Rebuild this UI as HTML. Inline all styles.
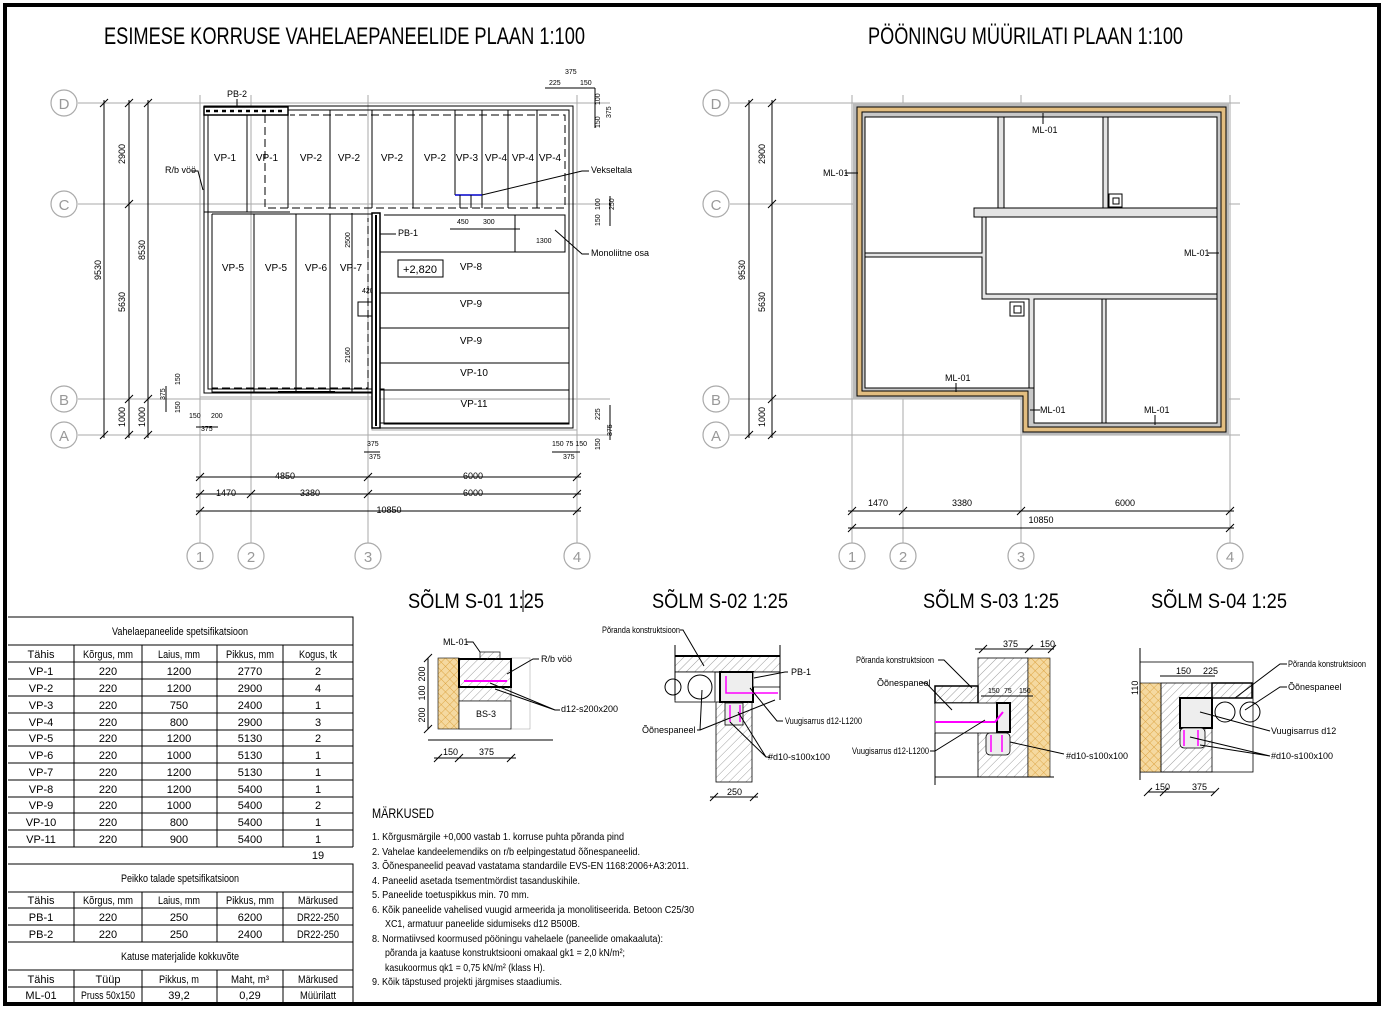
<!DOCTYPE html>
<html><head><meta charset="utf-8"><style>
html,body{margin:0;padding:0;background:#fff;}
svg{display:block;}
text{font-family:"Liberation Sans",sans-serif;fill:#000;}
.g{stroke:#aaa;stroke-width:1;fill:none;}
.k{stroke:#000;stroke-width:1;fill:none;}
.k2{stroke:#000;stroke-width:2;fill:none;}
.d{stroke:#000;stroke-width:1;fill:none;stroke-dasharray:8 4;}
.s{font-size:9px;}
.xs{font-size:7px;}
.t{font-size:10px;}
.circ{fill:#fff;stroke:#aaa;stroke-width:1.2;}
.cl{font-size:15px;fill:#999;}
</style></head><body>
<svg width="1385" height="1012" viewBox="0 0 1385 1012" xmlns="http://www.w3.org/2000/svg">
<defs>
<pattern id="hat" width="6" height="6" patternUnits="userSpaceOnUse" patternTransform="rotate(45)"><line x1="0" y1="0" x2="0" y2="6" stroke="#777" stroke-width="0.7"/></pattern>
<pattern id="ins" width="6" height="6" patternUnits="userSpaceOnUse" patternTransform="rotate(45)"><rect width="6" height="6" fill="#f5d9a0"/><line x1="0" y1="0" x2="0" y2="6" stroke="#d89a30" stroke-width="0.8"/><line x1="0" y1="0" x2="6" y2="0" stroke="#d89a30" stroke-width="0.8"/></pattern>
</defs>
<rect x="0" y="0" width="1385" height="1012" fill="#fff"/>
<rect x="5" y="5" width="1374" height="999" fill="none" stroke="#000" stroke-width="4"/>

<text x="104" y="44" font-size="24" textLength="481" lengthAdjust="spacingAndGlyphs">ESIMESE KORRUSE VAHELAEPANEELIDE PLAAN 1:100</text>
<text x="868" y="44" font-size="24" textLength="315" lengthAdjust="spacingAndGlyphs">PÖÖNINGU MÜÜRILATI PLAAN 1:100</text>

<g class="g">
<line x1="78" y1="103" x2="610" y2="103"/><line x1="78" y1="204" x2="610" y2="204"/>
<line x1="78" y1="399" x2="610" y2="399"/><line x1="78" y1="435" x2="610" y2="435"/>
<line x1="200" y1="95" x2="200" y2="543"/><line x1="251" y1="95" x2="251" y2="543"/>
<line x1="368" y1="95" x2="368" y2="543"/><line x1="577" y1="95" x2="577" y2="543"/>
</g>
<g>
<circle class="circ" cx="64" cy="103" r="13"/><text class="cl" x="64" y="109" text-anchor="middle">D</text>
<circle class="circ" cx="64" cy="204" r="13"/><text class="cl" x="64" y="210" text-anchor="middle">C</text>
<circle class="circ" cx="64" cy="399" r="13"/><text class="cl" x="64" y="405" text-anchor="middle">B</text>
<circle class="circ" cx="64" cy="435" r="13"/><text class="cl" x="64" y="441" text-anchor="middle">A</text>
<circle class="circ" cx="200" cy="556" r="13"/><text class="cl" x="200" y="562" text-anchor="middle">1</text>
<circle class="circ" cx="251" cy="556" r="13"/><text class="cl" x="251" y="562" text-anchor="middle">2</text>
<circle class="circ" cx="368" cy="556" r="13"/><text class="cl" x="368" y="562" text-anchor="middle">3</text>
<circle class="circ" cx="577" cy="556" r="13"/><text class="cl" x="577" y="562" text-anchor="middle">4</text>
</g>
<g class="k">
<line x1="104" y1="100" x2="104" y2="438"/><line x1="129" y1="100" x2="129" y2="438"/><line x1="148" y1="100" x2="148" y2="438"/>
<path d="M100 107l8-8M125 107l8-8M144 107l8-8M125 208l8-8M100 439l8-8M125 439l8-8M144 439l8-8M125 403l8-8M144 403l8-8"/>
</g>
<g class="s">
<text transform="translate(101,270) rotate(-90)" text-anchor="middle">9530</text>
<text transform="translate(125,154) rotate(-90)" text-anchor="middle">2900</text>
<text transform="translate(125,302) rotate(-90)" text-anchor="middle">5630</text>
<text transform="translate(125,417) rotate(-90)" text-anchor="middle">1000</text>
<text transform="translate(145,250) rotate(-90)" text-anchor="middle">8530</text>
<text transform="translate(145,417) rotate(-90)" text-anchor="middle">1000</text>
</g>
<g class="k">
<line x1="196" y1="477" x2="581" y2="477"/><line x1="196" y1="494" x2="581" y2="494"/><line x1="196" y1="511" x2="581" y2="511"/>
<path d="M196 481l8-8M364 481l8-8M573 481l8-8M196 498l8-8M247 498l8-8M364 498l8-8M573 498l8-8M196 515l8-8M573 515l8-8"/>
</g>
<g class="s" text-anchor="middle">
<text x="285" y="479">4850</text><text x="473" y="479">6000</text>
<text x="226" y="496">1470</text><text x="310" y="496">3380</text><text x="473" y="496">6000</text>
<text x="389" y="513">10850</text>
</g>
<path class="g" d="M200 103H577V430H372V397H200Z"/>
<path class="k" d="M204 106H573V428H380V393H204Z" stroke-width="1.3"/>
<path class="k" d="M208 110H569V424H384V389H208Z" stroke-width="0.8"/>
<rect x="204" y="107" width="84" height="8" fill="#fff" stroke="#000" stroke-width="1.5"/>
<line x1="206" y1="111" x2="286" y2="111" stroke="#000" stroke-width="2.5" stroke-dasharray="4 4"/>
<g class="k">
<line x1="204" y1="212" x2="290" y2="212"/>
<line x1="247" y1="115" x2="247" y2="212"/><line x1="288" y1="110" x2="288" y2="208"/><line x1="330" y1="110" x2="330" y2="208"/>
<line x1="372" y1="110" x2="372" y2="208"/><line x1="413" y1="110" x2="413" y2="208"/><line x1="455" y1="110" x2="455" y2="195"/>
<line x1="482" y1="110" x2="482" y2="208"/><line x1="508" y1="110" x2="508" y2="208"/><line x1="537" y1="110" x2="537" y2="208"/>
<line x1="455" y1="195" x2="482" y2="195" stroke="#00c" stroke-width="1.5"/>
<line x1="460" y1="195" x2="460" y2="208"/><line x1="471" y1="195" x2="471" y2="208"/>
</g>
<path class="d" d="M265 115V208H565V115H290"/>
<g class="t" text-anchor="middle">
<text x="225" y="161">VP-1</text><text x="267" y="161">VP-1</text><text x="311" y="161">VP-2</text><text x="349" y="161">VP-2</text>
<text x="392" y="161">VP-2</text><text x="435" y="161">VP-2</text><text x="467" y="161">VP-3</text><text x="496" y="161">VP-4</text>
<text x="523" y="161">VP-4</text><text x="550" y="161">VP-4</text>
</g>
<path class="k" d="M212 214H372M212 214V392H372"/>
<g class="k"><line x1="254" y1="214" x2="254" y2="392"/><line x1="296" y1="214" x2="296" y2="392"/><line x1="330" y1="214" x2="330" y2="392"/></g>
<path class="d" d="M212 218V388H368V218"/>
<line x1="278" y1="392" x2="335" y2="392" stroke="#000" stroke-width="2"/>
<rect x="358" y="302" width="14" height="14" class="k"/>
<g class="t" text-anchor="middle"><text x="233" y="271">VP-5</text><text x="276" y="271">VP-5</text><text x="316" y="271">VP-6</text><text x="351" y="271">VP-7</text></g>
<line x1="352" y1="213" x2="352" y2="392" class="k" stroke-width="0.6"/>
<text class="xs" transform="translate(350,240) rotate(-90)" text-anchor="middle">2500</text>
<text class="xs" transform="translate(350,355) rotate(-90)" text-anchor="middle">2160</text>
<text class="xs" x="362" y="293">420</text>
<rect x="372" y="213" width="8" height="215" fill="#fff" stroke="#000" stroke-width="1.5"/>
<line x1="376" y1="215" x2="376" y2="426" stroke="#000" stroke-width="2"/>
<g class="k">
<path d="M384 215H515V252M515 215H565V252H380"/>
<line x1="380" y1="293" x2="569" y2="293"/><line x1="380" y1="328" x2="569" y2="328"/>
<line x1="380" y1="363" x2="569" y2="363"/><line x1="380" y1="390" x2="569" y2="390"/>
<line x1="380" y1="423" x2="569" y2="423"/><line x1="569" y1="252" x2="569" y2="423"/>
</g>
<rect x="398" y="260" width="45" height="17" class="k"/>
<text x="420" y="273" font-size="11" text-anchor="middle">+2,820</text>
<g class="t" text-anchor="middle"><text x="471" y="270">VP-8</text><text x="471" y="307">VP-9</text><text x="471" y="344">VP-9</text><text x="474" y="376">VP-10</text><text x="474" y="407">VP-11</text></g>
<g class="s">
<text x="227" y="97">PB-2</text><line x1="237" y1="99" x2="237" y2="106" class="k"/>
<text x="165" y="173">R/b vöö</text><path class="k" d="M192 171H198L203 190"/>
<text x="591" y="173">Vekseltala</text><path class="k" d="M589 171H582L482 195"/>
<text x="591" y="256">Monoliitne osa</text><path class="k" d="M589 254H582L555 230"/>
<text x="398" y="236">PB-1</text><line x1="380" y1="234" x2="396" y2="234" class="k"/>
</g>
<g class="xs">
<text x="457" y="224">450</text><text x="483" y="224">300</text><text x="536" y="243">1300</text>
<text x="367" y="446">375</text><text x="369" y="459">375</text><text x="552" y="446">150 75 150</text><text x="563" y="459">375</text>
<text x="189" y="418">150</text><text x="211" y="418">200</text><text x="201" y="431">375</text>
<text x="549" y="85">225</text><text x="565" y="74">375</text><text x="580" y="85">150</text>
</g>
<g class="k" stroke-width="0.7">
<path d="M450 229H520M196 427H218M364 452H380M552 452H580M545 88H595M595 88V128M610 196V226M610 405V440M166 386V412"/>
</g>
<g class="xs">
<text transform="translate(600,105) rotate(-90)">100</text><text transform="translate(600,128) rotate(-90)">150</text>
<text transform="translate(611,118) rotate(-90)">375</text>
<text transform="translate(600,210) rotate(-90)">100</text><text transform="translate(600,226) rotate(-90)">150</text><text transform="translate(614,210) rotate(-90)">250</text>
<text transform="translate(600,420) rotate(-90)">225</text><text transform="translate(600,450) rotate(-90)">150</text><text transform="translate(612,436) rotate(-90)">375</text>
<text transform="translate(165,400) rotate(-90)">375</text><text transform="translate(180,385) rotate(-90)">150</text><text transform="translate(180,413) rotate(-90)">150</text>
</g>

<g class="g">
<line x1="730" y1="103" x2="1240" y2="103"/><line x1="730" y1="204" x2="1240" y2="204"/>
<line x1="730" y1="399" x2="1240" y2="399"/><line x1="730" y1="435" x2="1240" y2="435"/>
<line x1="852" y1="95" x2="852" y2="543"/><line x1="903" y1="95" x2="903" y2="543"/>
<line x1="1021" y1="95" x2="1021" y2="543"/><line x1="1230" y1="95" x2="1230" y2="543"/>
</g>
<g>
<circle class="circ" cx="716" cy="103" r="13"/><text class="cl" x="716" y="109" text-anchor="middle">D</text>
<circle class="circ" cx="716" cy="204" r="13"/><text class="cl" x="716" y="210" text-anchor="middle">C</text>
<circle class="circ" cx="716" cy="399" r="13"/><text class="cl" x="716" y="405" text-anchor="middle">B</text>
<circle class="circ" cx="716" cy="435" r="13"/><text class="cl" x="716" y="441" text-anchor="middle">A</text>
<circle class="circ" cx="852" cy="556" r="13"/><text class="cl" x="852" y="562" text-anchor="middle">1</text>
<circle class="circ" cx="903" cy="556" r="13"/><text class="cl" x="903" y="562" text-anchor="middle">2</text>
<circle class="circ" cx="1021" cy="556" r="13"/><text class="cl" x="1021" y="562" text-anchor="middle">3</text>
<circle class="circ" cx="1230" cy="556" r="13"/><text class="cl" x="1230" y="562" text-anchor="middle">4</text>
</g>
<g class="k">
<line x1="749" y1="100" x2="749" y2="438"/><line x1="772" y1="100" x2="772" y2="438"/>
<path d="M745 107l8-8M768 107l8-8M768 208l8-8M768 403l8-8M745 439l8-8M768 439l8-8"/>
<line x1="848" y1="511" x2="1234" y2="511"/><line x1="848" y1="528" x2="1234" y2="528"/>
<path d="M848 515l8-8M899 515l8-8M1017 515l8-8M1226 515l8-8M848 532l8-8M1226 532l8-8"/>
</g>
<g class="s">
<text transform="translate(745,270) rotate(-90)" text-anchor="middle">9530</text>
<text transform="translate(765,154) rotate(-90)" text-anchor="middle">2900</text>
<text transform="translate(765,302) rotate(-90)" text-anchor="middle">5630</text>
<text transform="translate(765,417) rotate(-90)" text-anchor="middle">1000</text>
<text x="878" y="506" text-anchor="middle">1470</text><text x="962" y="506" text-anchor="middle">3380</text>
<text x="1125" y="506" text-anchor="middle">6000</text><text x="1041" y="523" text-anchor="middle">10850</text>
</g>
<path d="M853 103H1229V435H1022V399H853Z" fill="#bbb"/>
<path d="M857 107H1226V432H1023V396H857Z" fill="#e2bd80" stroke="#000" stroke-width="1"/>
<path d="M862 112H1221V427H1028V391H862Z" fill="#c8c8c8" stroke="#000" stroke-width="1"/>
<path d="M865 117H1217V423H1034V388H865Z" fill="#fff" stroke="#000" stroke-width="1"/>
<g fill="#e4e4e4" stroke="#000" stroke-width="1">
<rect x="998" y="117" width="6" height="91"/><rect x="1103" y="117" width="5" height="91"/>
<rect x="974" y="208" width="243" height="9"/>
<path d="M982 217H986V294H1217V299H1034V388H1029V299H982V257H865V253H982Z"/>
<rect x="1102" y="299" width="4" height="124"/>
</g>
<rect x="1109" y="194" width="13" height="13" fill="#fff" stroke="#000"/><rect x="1113" y="198" width="6" height="6" fill="#fff" stroke="#000"/>
<rect x="1010" y="302" width="14" height="14" fill="#fff" stroke="#000"/><rect x="1014" y="306" width="7" height="7" fill="#fff" stroke="#000"/>
<g class="s">
<text x="1032" y="133">ML-01</text><line x1="1043" y1="113" x2="1043" y2="124" class="k"/>
<text x="823" y="176">ML-01</text><line x1="845" y1="173" x2="858" y2="173" class="k"/>
<text x="1184" y="256">ML-01</text><line x1="1208" y1="253" x2="1219" y2="253" class="k"/>
<text x="945" y="381">ML-01</text><line x1="956" y1="383" x2="956" y2="392" class="k"/>
<text x="1040" y="413">ML-01</text><line x1="1030" y1="410" x2="1040" y2="410" class="k"/>
<text x="1144" y="413">ML-01</text><line x1="1155" y1="415" x2="1155" y2="425" class="k"/>
</g>

<g font-size="21">
<text x="408" y="608" textLength="136" lengthAdjust="spacingAndGlyphs">SÕLM S-01 1:25</text>
<text x="652" y="608" textLength="136" lengthAdjust="spacingAndGlyphs">SÕLM S-02 1:25</text>
<text x="923" y="608" textLength="136" lengthAdjust="spacingAndGlyphs">SÕLM S-03 1:25</text>
<text x="1151" y="608" textLength="136" lengthAdjust="spacingAndGlyphs">SÕLM S-04 1:25</text>
</g>
<line x1="523" y1="590" x2="523" y2="612" stroke="#000"/>

<rect x="438" y="658" width="21" height="71" fill="url(#ins)" stroke="#000" stroke-width="0.6"/>
<rect x="511" y="658" width="19" height="71" fill="#fff" stroke="#aaa" stroke-width="0.6"/>
<rect x="459" y="687" width="52" height="14" fill="url(#hat)" stroke="#000" stroke-width="0.5"/>
<rect x="459" y="659" width="52" height="28" fill="url(#hat)" stroke="#000" stroke-width="2"/>
<line x1="464" y1="681" x2="507" y2="681" stroke="#f0f" stroke-width="2"/>
<rect x="459" y="701" width="52" height="28" fill="#fff" stroke="#000" stroke-width="0.7"/>
<text x="476" y="717" class="s">BS-3</text>
<rect x="480" y="652" width="20" height="7" fill="url(#hat)" stroke="#000" stroke-width="0.7"/>
<g class="k">
<path d="M428 740H553M428 658V729M424 662l8-8M424 733l8-8M434 758H516M434 762l8-8M455 762l8-8M507 762l8-8"/>
<path d="M466 642H473L480 652M539 659H533L507 674M560 710H555L490 683M555 710L495 689"/>
</g>
<g class="s"><text x="443" y="645">ML-01</text><text x="541" y="662">R/b vöö</text><text x="561" y="712">d12-s200x200</text>
<text x="443" y="755">150</text><text x="479" y="755">375</text>
<text transform="translate(425,674) rotate(-90)" text-anchor="middle">200</text>
<text transform="translate(425,693) rotate(-90)" text-anchor="middle">100</text>
<text transform="translate(425,715) rotate(-90)" text-anchor="middle">200</text></g>

<rect x="675" y="656" width="105" height="16" fill="url(#hat)" stroke="#000" stroke-width="1"/>
<line x1="675" y1="656" x2="780" y2="656" stroke="#000" stroke-width="2"/>
<rect x="675" y="672" width="40" height="30" fill="#fff" stroke="#000" stroke-width="0.8"/>
<circle cx="700" cy="687" r="12" class="k"/><circle cx="673" cy="687" r="8" class="k"/>
<rect x="720" y="672" width="33" height="30" fill="#eee" stroke="#000" stroke-width="2"/>
<rect x="753" y="672" width="27" height="15" fill="#fff" stroke="#000" stroke-width="0.8"/>
<path d="M726 676V693H778" stroke="#f0f" stroke-width="1.5" fill="none"/>
<rect x="716" y="702" width="36" height="80" fill="url(#hat)" stroke="#000" stroke-width="0.8"/>
<rect x="725" y="703" width="18" height="22" fill="#eee" stroke="#000" stroke-width="0.8"/>
<path d="M730 705V722M740 705V722" stroke="#f0f" stroke-width="1.5"/>
<g class="k"><path d="M675 645V700M780 645V700M710 797H758M710 801l8-8M750 801l8-8M680 630H683L704 666M788 672H785L754 678M783 721H777L750 688M697 730H700L702 690M700 730L775 700M770 757H766L730 722M766 757L738 712"/></g>
<g class="s"><text x="602" y="633" textLength="78" lengthAdjust="spacingAndGlyphs">Põranda konstruktsioon</text><text x="791" y="675">PB-1</text><text x="785" y="724" textLength="77" lengthAdjust="spacingAndGlyphs">Vuugisarrus d12-L1200</text>
<text x="642" y="733">Õõnespaneel</text><text x="768" y="760">#d10-s100x100</text><text x="727" y="795">250</text></g>

<rect x="935" y="733" width="43" height="44" fill="#fff" stroke="#bbb" stroke-width="0.6"/>
<rect x="978" y="658" width="50" height="119" fill="url(#hat)" stroke="#000" stroke-width="0.8"/>
<rect x="1028" y="658" width="22" height="119" fill="url(#ins)" stroke="#000" stroke-width="0.6"/>
<rect x="935" y="686" width="43" height="17" fill="url(#hat)" stroke="#000" stroke-width="1.5"/>
<rect x="935" y="703" width="62" height="30" fill="#fff" stroke="#000" stroke-width="0.8"/>
<rect x="997" y="703" width="13" height="29" fill="#eee" stroke="#000" stroke-width="2"/>
<rect x="986" y="733" width="24" height="22" rx="4" fill="#eee" stroke="#000" stroke-width="0.8"/>
<path d="M935 722H995L1003 712" stroke="#f0f" stroke-width="2" fill="none"/>
<path d="M991 735V752M1002 735V752" stroke="#f0f" stroke-width="1.5"/>
<g class="k"><path d="M935 777H1054M935 733V785M975 649H1054M979 653l8-8M1025 653l8-8M1048 653l8-8M981 696H1033M938 660H944L972 688M921 683H926L952 710M930 751H935L985 720M1064 754L1010 742"/></g>
<g class="s"><text x="856" y="663" textLength="78" lengthAdjust="spacingAndGlyphs">Põranda konstruktsioon</text><text x="877" y="686">Õõnespaneel</text>
<text x="852" y="754" textLength="77" lengthAdjust="spacingAndGlyphs">Vuugisarrus d12-L1200</text><text x="1066" y="759">#d10-s100x100</text>
<text x="1003" y="647">375</text><text x="1040" y="647">150</text><text x="988" y="693" class="xs">150</text><text x="1004" y="693" class="xs">75</text><text x="1019" y="693" class="xs">150</text></g>

<rect x="1140" y="662" width="113" height="110" fill="#fff" stroke="#000" stroke-width="0.8"/>
<rect x="1140" y="683" width="21" height="89" fill="url(#ins)" stroke="#000" stroke-width="0.6"/>
<rect x="1161" y="683" width="51" height="89" fill="url(#hat)" stroke="#000" stroke-width="0.8"/>
<rect x="1212" y="683" width="40" height="15" fill="url(#hat)" stroke="#000" stroke-width="1.5"/>
<rect x="1180" y="698" width="32" height="30" fill="#eee" stroke="#000" stroke-width="2"/>
<rect x="1180" y="728" width="25" height="20" rx="4" fill="#eee" stroke="#000" stroke-width="0.8"/>
<path d="M1184 730V746M1198 730V746" stroke="#f0f" stroke-width="1.5"/>
<circle cx="1225" cy="712" r="10" class="k"/><circle cx="1250" cy="712" r="10" class="k"/>
<g class="k"><path d="M1140 648V780M1160 676H1215M1148 792H1215M1144 796l8-8M1160 796l8-8M1211 796l8-8M1287 664H1280L1235 698M1287 687H1280L1245 710M1270 731L1200 712M1270 756L1190 737M1270 756L1200 745"/></g>
<g class="s"><text x="1288" y="667" textLength="78" lengthAdjust="spacingAndGlyphs">Põranda konstruktsioon</text><text x="1288" y="690">Õõnespaneel</text>
<text x="1271" y="734">Vuugisarrus d12</text><text x="1271" y="759">#d10-s100x100</text>
<text x="1176" y="674">150</text><text x="1203" y="674">225</text><text x="1155" y="790">150</text><text x="1192" y="790">375</text>
<text transform="translate(1138,695) rotate(-90)">110</text></g>

<text x="372" y="818" font-size="14" textLength="62" lengthAdjust="spacingAndGlyphs">MÄRKUSED</text>
<g font-size="10.5">
<text x="372" y="840" textLength="252" lengthAdjust="spacingAndGlyphs">1.  Kõrgusmärgile +0,000 vastab 1. korruse puhta põranda pind</text>
<text x="372" y="855" textLength="268" lengthAdjust="spacingAndGlyphs">2.  Vahelae kandeelemendiks on r/b eelpingestatud õõnespaneelid.</text>
<text x="372" y="869" textLength="317" lengthAdjust="spacingAndGlyphs">3.  Õõnespaneelid peavad vastatama standardile EVS-EN 1168:2006+A3:2011.</text>
<text x="372" y="884" textLength="208" lengthAdjust="spacingAndGlyphs">4.  Paneelid asetada tsementmördist tasanduskihile.</text>
<text x="372" y="898" textLength="157" lengthAdjust="spacingAndGlyphs">5.  Paneelide toetuspikkus min. 70 mm.</text>
<text x="372" y="913" textLength="322" lengthAdjust="spacingAndGlyphs">6.  Kõik paneelide vahelised vuugid armeerida ja monolitiseerida. Betoon C25/30</text>
<text x="385" y="927" textLength="195" lengthAdjust="spacingAndGlyphs">XC1, armatuur paneelide sidumiseks d12 B500B.</text>
<text x="372" y="942" textLength="291" lengthAdjust="spacingAndGlyphs">8.  Normatiivsed koormused pööningu vahelaele (paneelide omakaaluta):</text>
<text x="385" y="956" textLength="240" lengthAdjust="spacingAndGlyphs">põranda ja kaatuse konstruktsiooni omakaal gk1 = 2,0 kN/m²;</text>
<text x="385" y="971" textLength="160" lengthAdjust="spacingAndGlyphs">kasukoormus qk1 = 0,75 kN/m² (klass H).</text>
<text x="372" y="985" textLength="190" lengthAdjust="spacingAndGlyphs">9. Kõik täpstused projekti järgmises staadiumis.</text>
</g>

<g stroke="#000" stroke-width="1" fill="none">
<path d="M8 617H353V847M8 645H353M8 662H353M8 679H353M8 696H353M8 713H353M8 730H353M8 746H353M8 763H353M8 780H353M8 797H353M8 813H353M8 830H353M8 847H353"/>
<path d="M74 645V847M142 645V847M217 645V847M283 645V847"/>
<path d="M8 864H353V1003M8 892H353M8 908H353M8 925H353M8 942H353M8 970H353M8 987H353"/>
<path d="M74 892V942M142 892V942M217 892V942M283 892V942M74 970V1003M142 970V1003M217 970V1003M283 970V1003"/>
</g>
<g font-size="11" text-anchor="middle">
<text x="180" y="635" textLength="136" lengthAdjust="spacingAndGlyphs">Vahelaepaneelide spetsifikatsioon</text>
<text x="41" y="658">Tähis</text><text x="108" y="658" textLength="50" lengthAdjust="spacingAndGlyphs">Kõrgus, mm</text><text x="179" y="658" textLength="42" lengthAdjust="spacingAndGlyphs">Laius, mm</text><text x="250" y="658" textLength="48" lengthAdjust="spacingAndGlyphs">Pikkus, mm</text><text x="318" y="658" textLength="38" lengthAdjust="spacingAndGlyphs">Kogus, tk</text>
<text x="41" y="675">VP-1</text><text x="108" y="675">220</text><text x="179" y="675">1200</text><text x="250" y="675">2770</text><text x="318" y="675">2</text>
<text x="41" y="692">VP-2</text><text x="108" y="692">220</text><text x="179" y="692">1200</text><text x="250" y="692">2900</text><text x="318" y="692">4</text>
<text x="41" y="709">VP-3</text><text x="108" y="709">220</text><text x="179" y="709">750</text><text x="250" y="709">2400</text><text x="318" y="709">1</text>
<text x="41" y="726">VP-4</text><text x="108" y="726">220</text><text x="179" y="726">800</text><text x="250" y="726">2900</text><text x="318" y="726">3</text>
<text x="41" y="742">VP-5</text><text x="108" y="742">220</text><text x="179" y="742">1200</text><text x="250" y="742">5130</text><text x="318" y="742">2</text>
<text x="41" y="759">VP-6</text><text x="108" y="759">220</text><text x="179" y="759">1000</text><text x="250" y="759">5130</text><text x="318" y="759">1</text>
<text x="41" y="776">VP-7</text><text x="108" y="776">220</text><text x="179" y="776">1200</text><text x="250" y="776">5130</text><text x="318" y="776">1</text>
<text x="41" y="793">VP-8</text><text x="108" y="793">220</text><text x="179" y="793">1200</text><text x="250" y="793">5400</text><text x="318" y="793">1</text>
<text x="41" y="809">VP-9</text><text x="108" y="809">220</text><text x="179" y="809">1000</text><text x="250" y="809">5400</text><text x="318" y="809">2</text>
<text x="41" y="826">VP-10</text><text x="108" y="826">220</text><text x="179" y="826">800</text><text x="250" y="826">5400</text><text x="318" y="826">1</text>
<text x="41" y="843">VP-11</text><text x="108" y="843">220</text><text x="179" y="843">900</text><text x="250" y="843">5400</text><text x="318" y="843">1</text>
<text x="318" y="859">19</text>
<text x="180" y="882" textLength="118" lengthAdjust="spacingAndGlyphs">Peikko talade spetsifikatsioon</text>
<text x="41" y="904">Tähis</text><text x="108" y="904" textLength="50" lengthAdjust="spacingAndGlyphs">Kõrgus, mm</text><text x="179" y="904" textLength="42" lengthAdjust="spacingAndGlyphs">Laius, mm</text><text x="250" y="904" textLength="48" lengthAdjust="spacingAndGlyphs">Pikkus, mm</text><text x="318" y="904" textLength="40" lengthAdjust="spacingAndGlyphs">Märkused</text>
<text x="41" y="921">PB-1</text><text x="108" y="921">220</text><text x="179" y="921">250</text><text x="250" y="921">6200</text><text x="318" y="921" textLength="42" lengthAdjust="spacingAndGlyphs">DR22-250</text>
<text x="41" y="938">PB-2</text><text x="108" y="938">220</text><text x="179" y="938">250</text><text x="250" y="938">2400</text><text x="318" y="938" textLength="42" lengthAdjust="spacingAndGlyphs">DR22-250</text>
<text x="180" y="960" textLength="118" lengthAdjust="spacingAndGlyphs">Katuse materjalide kokkuvõte</text>
<text x="41" y="983">Tähis</text><text x="108" y="983">Tüüp</text><text x="179" y="983" textLength="40" lengthAdjust="spacingAndGlyphs">Pikkus, m</text><text x="250" y="983" textLength="38" lengthAdjust="spacingAndGlyphs">Maht, m³</text><text x="318" y="983" textLength="40" lengthAdjust="spacingAndGlyphs">Märkused</text>
<text x="41" y="999">ML-01</text><text x="108" y="999" textLength="54" lengthAdjust="spacingAndGlyphs">Pruss 50x150</text><text x="179" y="999">39,2</text><text x="250" y="999">0,29</text><text x="318" y="999" textLength="36" lengthAdjust="spacingAndGlyphs">Müürilatt</text>
</g>
</svg>
</body></html>
